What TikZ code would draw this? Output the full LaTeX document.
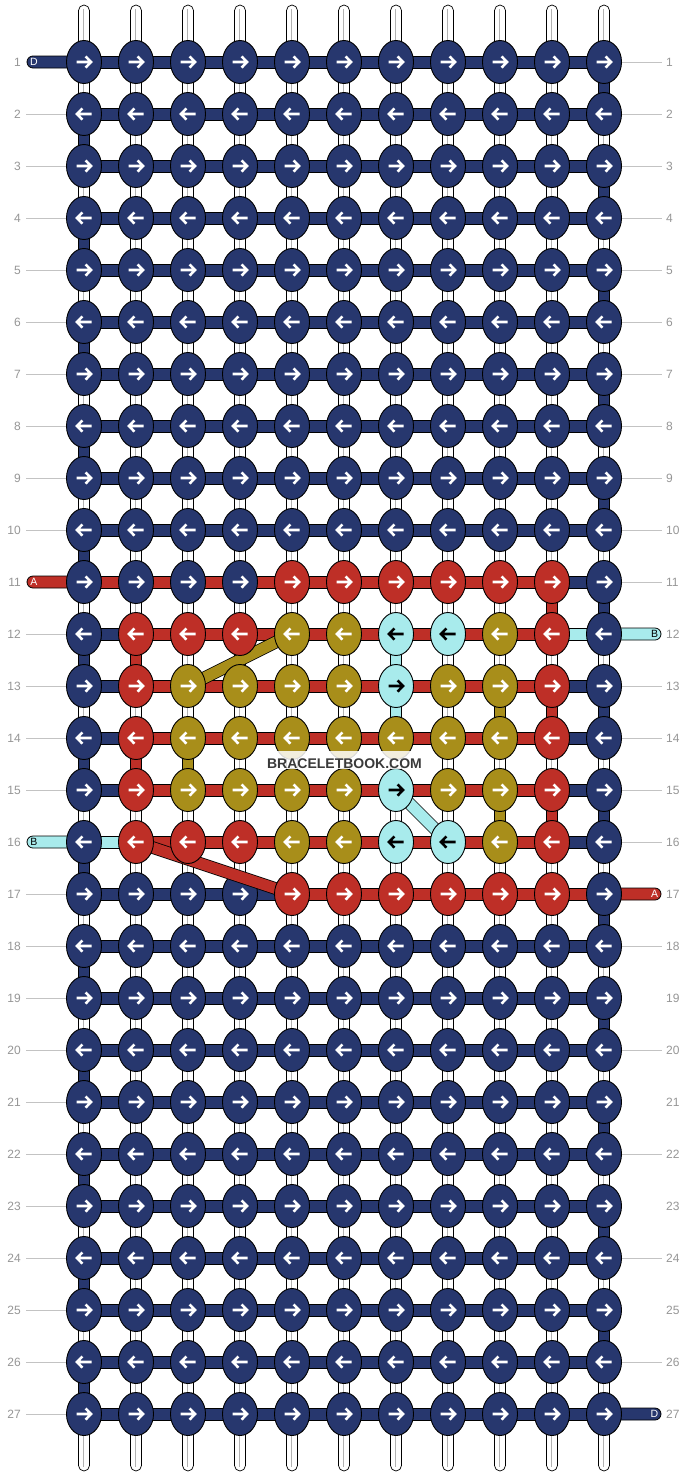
\documentclass[tikz,border=0pt]{standalone}
\usepackage{fontspec}
\setmainfont{Liberation Sans}
\usetikzlibrary{calc,shapes.geometric}
\definecolor{cN}{RGB}{39,55,110}
\definecolor{cR}{RGB}{190,47,39}
\definecolor{cG}{RGB}{168,142,26}
\definecolor{cC}{RGB}{168,235,236}
\definecolor{lblgray}{RGB}{150,150,150}
\definecolor{linegray}{RGB}{195,195,195}
\definecolor{txtgray}{RGB}{58,58,58}
\pgfdeclarelayer{strings}
\pgfdeclarelayer{verts}
\pgfdeclarelayer{bars}
\pgfdeclarelayer{knotlow}
\pgfdeclarelayer{diag}
\pgfdeclarelayer{knots}
\pgfsetlayers{strings,verts,bars,knotlow,diag,knots,main}
\tikzset{
  knot/.style={ellipse, draw=black, line width=0.9pt, minimum width=35pt, minimum height=43pt, inner sep=0pt},
  kN/.style={fill=cN}, kR/.style={fill=cR}, kG/.style={fill=cG}, kC/.style={fill=cC},
  arw/.style={line width=2.6pt},
  aN/.style={draw=white}, aR/.style={draw=white}, aG/.style={draw=white}, aC/.style={draw=black},
  seg/.style={draw=black, line width=0.8pt},
  strand/.style={draw=black, line width=0.7pt, fill=white, rounded corners=5.5pt},
  core/.style={draw=black!30, line width=0.6pt},
  diagband/.style={draw=black, line width=0.8pt, double=#1, double distance=11pt},
  lbl/.style={text=lblgray, font=\fontsize{12}{12}\selectfont, inner sep=0pt},
  gline/.style={draw=linegray, line width=0.8pt},
  endtxt/.style={font=\fontsize{10.5}{10.5}\selectfont, inner sep=0pt},
}
\newcommand\knotarrow[3]{%
  \pgfmathtruncatemacro\kodd{mod(#2,2)}%
  \ifnum\kodd=1 \def\kxs{1}\else\def\kxs{-1}\fi
  \draw[arw,#3,shift={(#1.center)},xscale=\kxs] (-7.5,0) -- (6.3,0) (1.6,-5.6) -- (7,0) -- (1.6,5.6);
}
\begin{document}
\begin{tikzpicture}[x=1pt,y=-1pt]
\useasboundingbox (0,0) rectangle (688,1476);
\begin{pgfonlayer}{strings}
\fill[white] (0,0) rectangle (688,1476);
\foreach \ci in {1,...,11} {
  \coordinate (st-\ci) at ({84+52*(\ci-1)},5);
  \coordinate (sb-\ci) at ({84+52*(\ci-1)},1471);
  \draw[strand] ($(st-\ci)+(-5.5,0)$) rectangle ($(sb-\ci)+(5.5,0)$);
  \draw[core] ($(st-\ci)+(-1,4)$) -- ($(sb-\ci)+(-1,-4)$);
}
\end{pgfonlayer}
% knots
\begin{pgfonlayer}{knots}
\foreach \ri in {1,...,10,18,19,...,27} {
  \foreach \ci in {1,...,11} {
    \node[knot,kN] (k-\ri-\ci) at ({84+52*(\ci-1)},{62+52*(\ri-1)}) {};
    \knotarrow{k-\ri-\ci}{\ri}{aN}
  }
}
\foreach \ri/\cl in {11/{N,N,N,N,R,R,R,R,R,R,N},12/{N,R,R,R,G,G,C,C,G,R,N},13/{N,R,G,G,G,G,C,G,G,R,N},14/{N,R,G,G,G,G,G,G,G,R,N},15/{N,R,G,G,G,G,C,G,G,R,N},16/{N,R,R,R,G,G,C,C,G,R,N},17/{N,N,N,N,R,R,R,R,R,R,N}} {
  \foreach \k [count=\ci] in \cl {
    \ifnum\numexpr\ri*100+\ci\relax=1704 \else
    \node[knot,k\k] (k-\ri-\ci) at ({84+52*(\ci-1)},{62+52*(\ri-1)}) {};
    \knotarrow{k-\ri-\ci}{\ri}{a\k}
    \fi
  }
}
\end{pgfonlayer}
\begin{pgfonlayer}{knotlow}
\node[knot,kN] (k-17-4) at (240,894) {};
\knotarrow{k-17-4}{17}{aN}
\end{pgfonlayer}
% horizontal bars
\begin{pgfonlayer}{bars}
\foreach \ri in {1,...,10,18,19,...,27} {
  \foreach \ci in {1,...,10} {
    \pgfmathtruncatemacro\cn{\ci+1}
    \draw[seg,fill=cN] ($(k-\ri-\ci.center)+(0,-6)$) rectangle ($(k-\ri-\cn.center)+(0,6)$);
  }
}
\foreach \ri/\cl in {11/{R,R,R,R,R,R,R,R,R,N},12/{N,R,R,R,R,R,R,R,R,C},13/{N,R,R,R,R,R,R,R,R,N},14/{N,R,R,R,R,R,R,R,R,N},15/{N,R,R,R,R,R,R,R,R,N},16/{C,R,R,R,R,R,R,R,R,N},17/{N,N,N,N,R,R,R,R,R,R}} {
  \foreach \k [count=\ci] in \cl {
    \pgfmathtruncatemacro\cn{\ci+1}
    \draw[seg,fill=c\k] ($(k-\ri-\ci.center)+(0,-6)$) rectangle ($(k-\ri-\cn.center)+(0,6)$);
  }
}
% thread ends
\foreach \ri/\k/\tx/\tc in {1/N/D/white,11/R/A/white,16/C/B/black} {
  \coordinate (le-\ri) at (27,{62+52*(\ri-1)});
  \draw[seg,fill=c\k,rounded corners=6pt] ($(le-\ri)+(0,-6)$) rectangle ($(k-\ri-1.center)+(0,6)$);
  \node[endtxt,text=\tc] (lt-\ri) at ($(le-\ri)+(7,0)$) {\tx};
}
\foreach \ri/\k/\tx/\tc in {12/C/B/black,17/R/A/white,27/N/D/white} {
  \coordinate (re-\ri) at (661,{62+52*(\ri-1)});
  \draw[seg,fill=c\k,rounded corners=6pt] ($(k-\ri-11.center)+(0,-6)$) rectangle ($(re-\ri)+(0,6)$);
  \node[endtxt,text=\tc] (rt-\ri) at ($(re-\ri)+(-6.5,0)$) {\tx};
}
\end{pgfonlayer}
% vertical coloured segments
\begin{pgfonlayer}{verts}
\foreach \ri in {1,3,...,25} {
  \pgfmathtruncatemacro\rn{\ri+1}
  \draw[seg,fill=cN] ($(k-\ri-11.center)+(-5.5,0)$) rectangle ($(k-\rn-11.center)+(5.5,0)$);
}
\foreach \ri in {2,4,...,26} {
  \pgfmathtruncatemacro\rn{\ri+1}
  \draw[seg,fill=cN] ($(k-\ri-1.center)+(-5.5,0)$) rectangle ($(k-\rn-1.center)+(5.5,0)$);
}
\foreach \ri/\ci/\k in {12/2/R,14/2/R,14/3/G,12/7/C,13/7/C,13/9/G,15/9/G,11/10/R,13/10/R,15/10/R} {
  \pgfmathtruncatemacro\rn{\ri+1}
  \draw[seg,fill=c\k] ($(k-\ri-\ci.center)+(-5.5,0)$) rectangle ($(k-\rn-\ci.center)+(5.5,0)$);
}
\end{pgfonlayer}
% diagonal threads
\begin{pgfonlayer}{diag}
\draw[diagband=cG] (k-13-3.center) -- (k-12-5.center);
\draw[diagband=cR] (k-16-2.center) -- (k-17-5.center);
\draw[diagband=cC] (k-15-7.center) -- (k-16-8.center);
\end{pgfonlayer}
% row labels and guide lines
\foreach \ri in {1,...,27} {
  \node[lbl,anchor=east] (ll-\ri) at (21,{62+52*(\ri-1)}) {\ri};
  \node[lbl,anchor=west] (rl-\ri) at (666,{62+52*(\ri-1)}) {\ri};
}
\begin{pgfonlayer}{strings}
\foreach \ri in {2,...,10,12,13,14,15,17,18,...,27} {
  \coordinate (lg-\ri) at (26,{62+52*(\ri-1)});
  \draw[gline] (lg-\ri) -- (k-\ri-1.center);
}
\foreach \ri in {1,...,11,13,14,15,16,18,...,26} {
  \coordinate (rg-\ri) at (662,{62+52*(\ri-1)});
  \draw[gline] (k-\ri-11.center) -- (rg-\ri);
}
\end{pgfonlayer}
\node[fill=white, fill opacity=0.85, text opacity=1, text=txtgray, font=\bfseries\fontsize{14}{14}\selectfont, inner xsep=3pt, inner ysep=1pt, text height=16pt, text depth=0pt, anchor=base] (wm) at (344.5,768) {BRACELETBOOK.COM};
\end{tikzpicture}
\end{document}
